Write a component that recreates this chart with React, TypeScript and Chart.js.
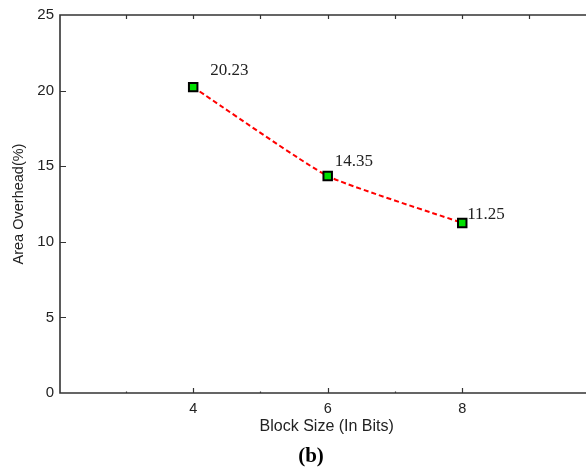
import React, { useEffect, useRef } from "react";
import { Chart, registerables } from "chart.js";

Chart.register(...registerables);

// ---- data ----
const blockSizes = [4, 6, 8];
const areaOverhead = [20.23, 14.35, 11.25];
const pointLabels = ["20.23", "14.35", "11.25"];
const xTickValues = [4, 6, 8];
const xMinorTickValues = [3, 5, 7];
const topTickValues = [3, 4, 5, 6, 7, 8, 9];
const yTickValues = [0, 5, 10, 15, 20, 25];
const xTitle = "Block Size (In Bits)";
const yTitle = "Area Overhead(%)";
const caption = "(b)";

const SANS = '"Liberation Sans", Arial, sans-serif';
const SERIF = '"Liberation Serif", "Times New Roman", serif';
const labelOffsets = [
  [17, -12],
  [7, -10],
  [5, -4],
];

const framePlugin = {
  id: "frame",
  afterDraw(chart: any) {
    const ctx = chart.ctx;
    const { left, right, top, bottom } = chart.chartArea;
    const xs = chart.scales.x;
    const ys = chart.scales.y;
    ctx.save();
    // frame
    ctx.strokeStyle = "#333";
    ctx.lineWidth = 1.6;
    ctx.beginPath();
    ctx.moveTo(right, top);
    ctx.lineTo(left, top);
    ctx.lineTo(left, bottom);
    ctx.lineTo(right, bottom);
    ctx.stroke();
    // ticks
    ctx.lineWidth = 1.2;
    ctx.beginPath();
    xTickValues.forEach((v) => {
      const px = Math.round(xs.getPixelForValue(v)) + 0.5;
      ctx.moveTo(px, bottom);
      ctx.lineTo(px, bottom - 5);
    });
    xMinorTickValues.forEach((v) => {
      const px = Math.round(xs.getPixelForValue(v)) + 0.5;
      ctx.moveTo(px, bottom);
      ctx.lineTo(px, bottom - 1.5);
    });
    topTickValues.forEach((v) => {
      const px = Math.round(xs.getPixelForValue(v)) + 0.5;
      ctx.moveTo(px, top);
      ctx.lineTo(px, top + 4);
    });
    yTickValues.forEach((v) => {
      if (v === 0 || v === 25) return;
      const py = Math.round(ys.getPixelForValue(v)) + 0.5;
      ctx.moveTo(left, py);
      ctx.lineTo(left + 6, py);
    });
    ctx.stroke();

    // axis titles
    ctx.fillStyle = "#222";
    ctx.font = `16px ${SANS}`;
    ctx.textAlign = "center";
    ctx.textBaseline = "alphabetic";
    ctx.fillText(xTitle, xs.getPixelForValue(6) - 1, 431);
    ctx.save();
    ctx.translate(23, (top + bottom) / 2);
    ctx.rotate(-Math.PI / 2);
    ctx.font = `14.5px ${SANS}`;
    ctx.fillText(yTitle, 0, 0);
    ctx.restore();

    // caption
    ctx.fillStyle = "#000";
    ctx.font = `bold 21px ${SERIF}`;
    ctx.fillText(caption, 311, 462);

    // point labels
    const meta = chart.getDatasetMeta(0);
    ctx.font = `17px ${SERIF}`;
    ctx.textAlign = "left";
    ctx.fillStyle = "#222";
    meta.data.forEach((pt: any, i: number) => {
      ctx.fillText(pointLabels[i], pt.x + labelOffsets[i][0], pt.y + labelOffsets[i][1]);
    });
    ctx.restore();
  },
};

export default function App() {
  const ref = useRef<HTMLCanvasElement>(null);
  useEffect(() => {
    document.body.style.margin = "0";
    const chart = new Chart(ref.current as HTMLCanvasElement, {
      type: "line",
      data: {
        datasets: [
          {
            data: blockSizes.map((x, i) => ({ x, y: areaOverhead[i] })),
            borderColor: "#ff0000",
            borderWidth: 2,
            borderDash: [5, 3],
            tension: 0.15,
            pointStyle: "rect",
            pointRadius: 6,
            pointBackgroundColor: "#00e000",
            pointBorderColor: "#000",
            pointBorderWidth: 2,
            fill: false,
          },
        ],
      },
      options: {
        animation: false,
        responsive: false,
        devicePixelRatio: 1,
        layout: { autoPadding: false, padding: { top: 13, left: 0, right: 0, bottom: 0 } },
        plugins: { legend: { display: false }, tooltip: { enabled: false } },
        scales: {
          x: {
            type: "linear",
            min: 2.02,
            max: 9.84,
            afterBuildTicks: (s: any) => {
              s.ticks = xTickValues.map((v) => ({ value: v }));
            },
            afterFit: (s: any) => {
              s.height = 75;
            },
            ticks: {
              font: { family: SANS, size: 14.5 },
              color: "#222",
              padding: 7,
              maxRotation: 0,
              autoSkip: false,
            },
            grid: { display: false, drawTicks: false },
            border: { display: false },
          },
          y: {
            type: "linear",
            min: 0,
            max: 25,
            afterBuildTicks: (s: any) => {
              s.ticks = yTickValues.map((v) => ({ value: v }));
            },
            afterFit: (s: any) => {
              s.width = 60;
            },
            ticks: {
              font: { family: SANS, size: 15 },
              color: "#222",
              padding: 6,
            },
            grid: { display: false, drawTicks: false },
            border: { display: false },
          },
        },
      },
      plugins: [framePlugin],
    } as any);
    return () => chart.destroy();
  }, []);
  return (
    <div style={{ width: 586, height: 468, background: "#fff" }}>
      <canvas ref={ref} width={586} height={468} style={{ display: "block" }} />
    </div>
  );
}
